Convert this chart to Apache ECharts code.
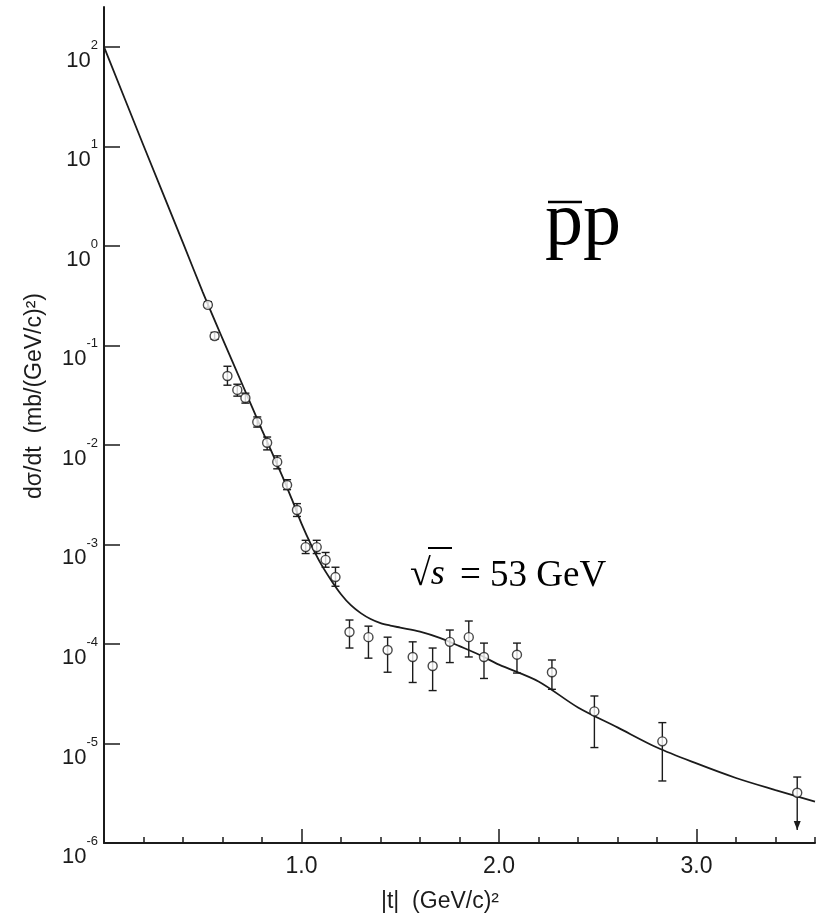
<!DOCTYPE html>
<html><head><meta charset="utf-8">
<script src="https://cdn.jsdelivr.net/npm/echarts@6/dist/echarts.min.js"></script>
<style>html,body{margin:0;padding:0;background:#fff}#c{width:820px;height:917px}</style>
</head><body><div id="c"></div>
<script>
// ---- data ----
const pointT = [0.526,0.560,0.625,0.675,0.716,0.776,0.826,0.877,0.927,0.977,1.021,1.077,1.122,1.172,
  1.243,1.339,1.436,1.563,1.664,1.751,1.847,1.924,2.091,2.268,2.483,2.827,3.51];
const pointSigma = [0.255,0.124,0.0493,0.0357,0.0296,0.0170,0.0105,0.00675,0.00396,0.00222,9.4e-4,9.4e-4,7.0e-4,4.7e-4,
  1.32e-4,1.17e-4,8.7e-5,7.4e-5,6.0e-5,1.05e-4,1.17e-4,7.4e-5,7.8e-5,5.2e-5,2.1e-5,1.05e-5,3.2e-6];
const pointLow = [0.240,0.115,0.0398,0.0309,0.0263,0.0151,0.00891,0.00575,0.00355,0.00191,8.1e-4,8.1e-4,5.9e-4,3.8e-4,
  9.1e-5,7.2e-5,5.2e-5,4.1e-5,3.4e-5,6.5e-5,7.4e-5,4.5e-5,5.1e-5,3.5e-5,9.1e-6,4.2e-6,1.35e-6];
const pointHigh = [0.275,0.135,0.0617,0.0407,0.0331,0.0191,0.0120,0.00776,0.00447,0.00257,1.10e-3,1.10e-3,8.3e-4,5.9e-4,
  1.74e-4,1.51e-4,1.17e-4,1.05e-4,9.1e-5,1.38e-4,1.70e-4,1.02e-4,1.02e-4,6.9e-5,3.0e-5,1.62e-5,4.6e-6];
const pointUpperLimit = [0,0,0,0,0,0,0,0,0,0,0,0,0,0,0,0,0,0,0,0,0,0,0,0,0,0,1];
const curveT = [0,0.2,0.4,0.5,0.6,0.7,0.8,0.9,0.95,1.0,1.05,1.1,1.15,1.2,1.25,1.3,1.35,1.4,1.45,1.5,1.6,1.7,1.8,1.9,2.0,2.2,2.4,2.6,2.8,3.0,3.2,3.4,3.6];
const curveSigma = [100,10.2,1.07,0.343,0.117,0.0407,0.0141,0.00501,0.00288,1.62e-3,9.8e-4,6.3e-4,4.37e-4,3.16e-4,2.45e-4,2.04e-4,1.78e-4,1.62e-4,1.53e-4,1.46e-4,1.33e-4,1.15e-4,9.5e-5,7.8e-5,6.2e-5,4.2e-5,2.3e-5,1.45e-5,9.1e-6,6.3e-6,4.5e-6,3.4e-6,2.6e-6];
const yTickExponents = [-6,-5,-4,-3,-2,-1,0,1,2];
const xMajorTicks = [1,2,3];
const yAxisTitle = 'dσ/dt  (mb/(GeV/c)²)';
const xAxisTitle = '|t|  (GeV/c)²';
const reactionLabel = 'pp';
const energyLabel = '= 53 GeV';

// ---- chart ----
const lg = Math.log10;
const FONT = '"Liberation Sans Narrow","Liberation Sans",Arial,sans-serif';
const SERIF = '"Liberation Serif","Times New Roman",serif';
const INK = '#1b1b1b';
const chart = echarts.init(document.getElementById('c'), null, {renderer: 'canvas'});

const lineSt = {color: INK, width: 2};
chart.setOption({
  animation: false,
  backgroundColor: '#fff',
  grid: {left: 104, right: 5, top: 7, bottom: 74},
  xAxis: [
    {type: 'value', min: 0, max: 3.6, interval: 0.2, position: 'bottom',
     axisLine: {show: true, onZero: false, lineStyle: lineSt},
     axisTick: {show: true, inside: true, length: 6, lineStyle: {color: INK, width: 1.5}},
     axisLabel: {show: false}, splitLine: {show: false}},
    {type: 'value', min: 0, max: 3.6, interval: 1, position: 'bottom',
     axisLine: {show: false, onZero: false},
     axisTick: {show: true, inside: true, length: 14, customValues: xMajorTicks, lineStyle: {color: INK, width: 1.5}},
     axisLabel: {customValues: xMajorTicks, formatter: v => v.toFixed(1), fontSize: 23, color: INK, fontFamily: FONT, margin: 12},
     splitLine: {show: false}}
  ],
  yAxis: {type: 'value', min: -6, max: 2.4, interval: 1,
    axisLine: {show: true, onZero: false, lineStyle: lineSt},
    axisTick: {show: true, inside: true, length: 16, customValues: yTickExponents, lineStyle: {color: INK, width: 1.5}},
    axisLabel: {customValues: yTickExponents, margin: 6, color: INK,
      formatter: v => '{b|10}{s|' + v + '}',
      rich: {
        b: {fontSize: 22, fontFamily: FONT, color: INK, padding: [28, 0, 0, 0]},
        s: {fontSize: 13, fontFamily: FONT, color: INK, verticalAlign: 'top', padding: [17, 0, 0, 0]}
      }},
    splitLine: {show: false}},
  series: [
    {type: 'line', xAxisIndex: 0, data: curveT.map((t, i) => [t, lg(curveSigma[i])]),
     smooth: 0.3, symbol: 'none', lineStyle: {color: INK, width: 1.8}, z: 2},
    {type: 'custom', xAxisIndex: 0,
     data: pointT.map((t, i) => [t, lg(pointLow[i]), lg(pointHigh[i]), pointUpperLimit[i]]),
     renderItem: (params, api) => {
       const x = api.value(0), lo = api.value(1), hi = api.value(2), lim = api.value(3);
       const a = api.coord([x, hi]), b = api.coord([x, lo]);
       const cw = 4;
       const st = {stroke: INK, lineWidth: 1.4, fill: null};
       const ch = [
         {type: 'line', shape: {x1: a[0], y1: a[1], x2: b[0], y2: b[1]}, style: st},
         {type: 'line', shape: {x1: a[0] - cw, y1: a[1], x2: a[0] + cw, y2: a[1]}, style: st}
       ];
       if (lim) ch.push({type: 'polygon', shape: {points: [[b[0] - 3.5, b[1] - 9], [b[0] + 3.5, b[1] - 9], [b[0], b[1]]]}, style: {fill: INK}});
       else ch.push({type: 'line', shape: {x1: b[0] - cw, y1: b[1], x2: b[0] + cw, y2: b[1]}, style: st});
       return {type: 'group', children: ch};
     }, z: 3},
    {type: 'scatter', xAxisIndex: 0, data: pointT.map((t, i) => [t, lg(pointSigma[i])]),
     symbol: 'circle', symbolSize: 9,
     itemStyle: {color: '#fff', borderColor: INK, borderWidth: 1.4}, z: 4}
  ],
  graphic: [
    {type: 'text', x: 35, y: 396, rotation: Math.PI / 2,
     style: {text: yAxisTitle, fontSize: 23, fontFamily: FONT, fill: INK, align: 'center', verticalAlign: 'middle'}},
    {type: 'text', x: 440, y: 902,
     style: {text: xAxisTitle, fontSize: 23, fontFamily: FONT, fill: INK, align: 'center', verticalAlign: 'middle'}},
    {type: 'text', x: 545, y: 224,
     style: {text: reactionLabel, fontSize: 76, fontFamily: SERIF, fill: '#000', align: 'left', verticalAlign: 'middle'}},
    {type: 'line', shape: {x1: 548, y1: 202, x2: 582, y2: 202}, style: {stroke: '#000', lineWidth: 2.5}},
    {type: 'text', x: 410, y: 575,
     style: {text: '{r|√}{i|s}', rich: {r: {fontSize: 38, fontFamily: SERIF, fill: '#000'}, i: {fontSize: 36, fontFamily: SERIF, fontStyle: 'italic', fill: '#000'}},
             align: 'left', verticalAlign: 'middle'}},
    {type: 'line', shape: {x1: 428, y1: 548, x2: 452, y2: 548}, style: {stroke: '#000', lineWidth: 2}},
    {type: 'text', x: 460, y: 576,
     style: {text: energyLabel, fontSize: 37, fontFamily: SERIF, fill: '#000', align: 'left', verticalAlign: 'middle'}}
  ]
});
</script>
</body></html>
